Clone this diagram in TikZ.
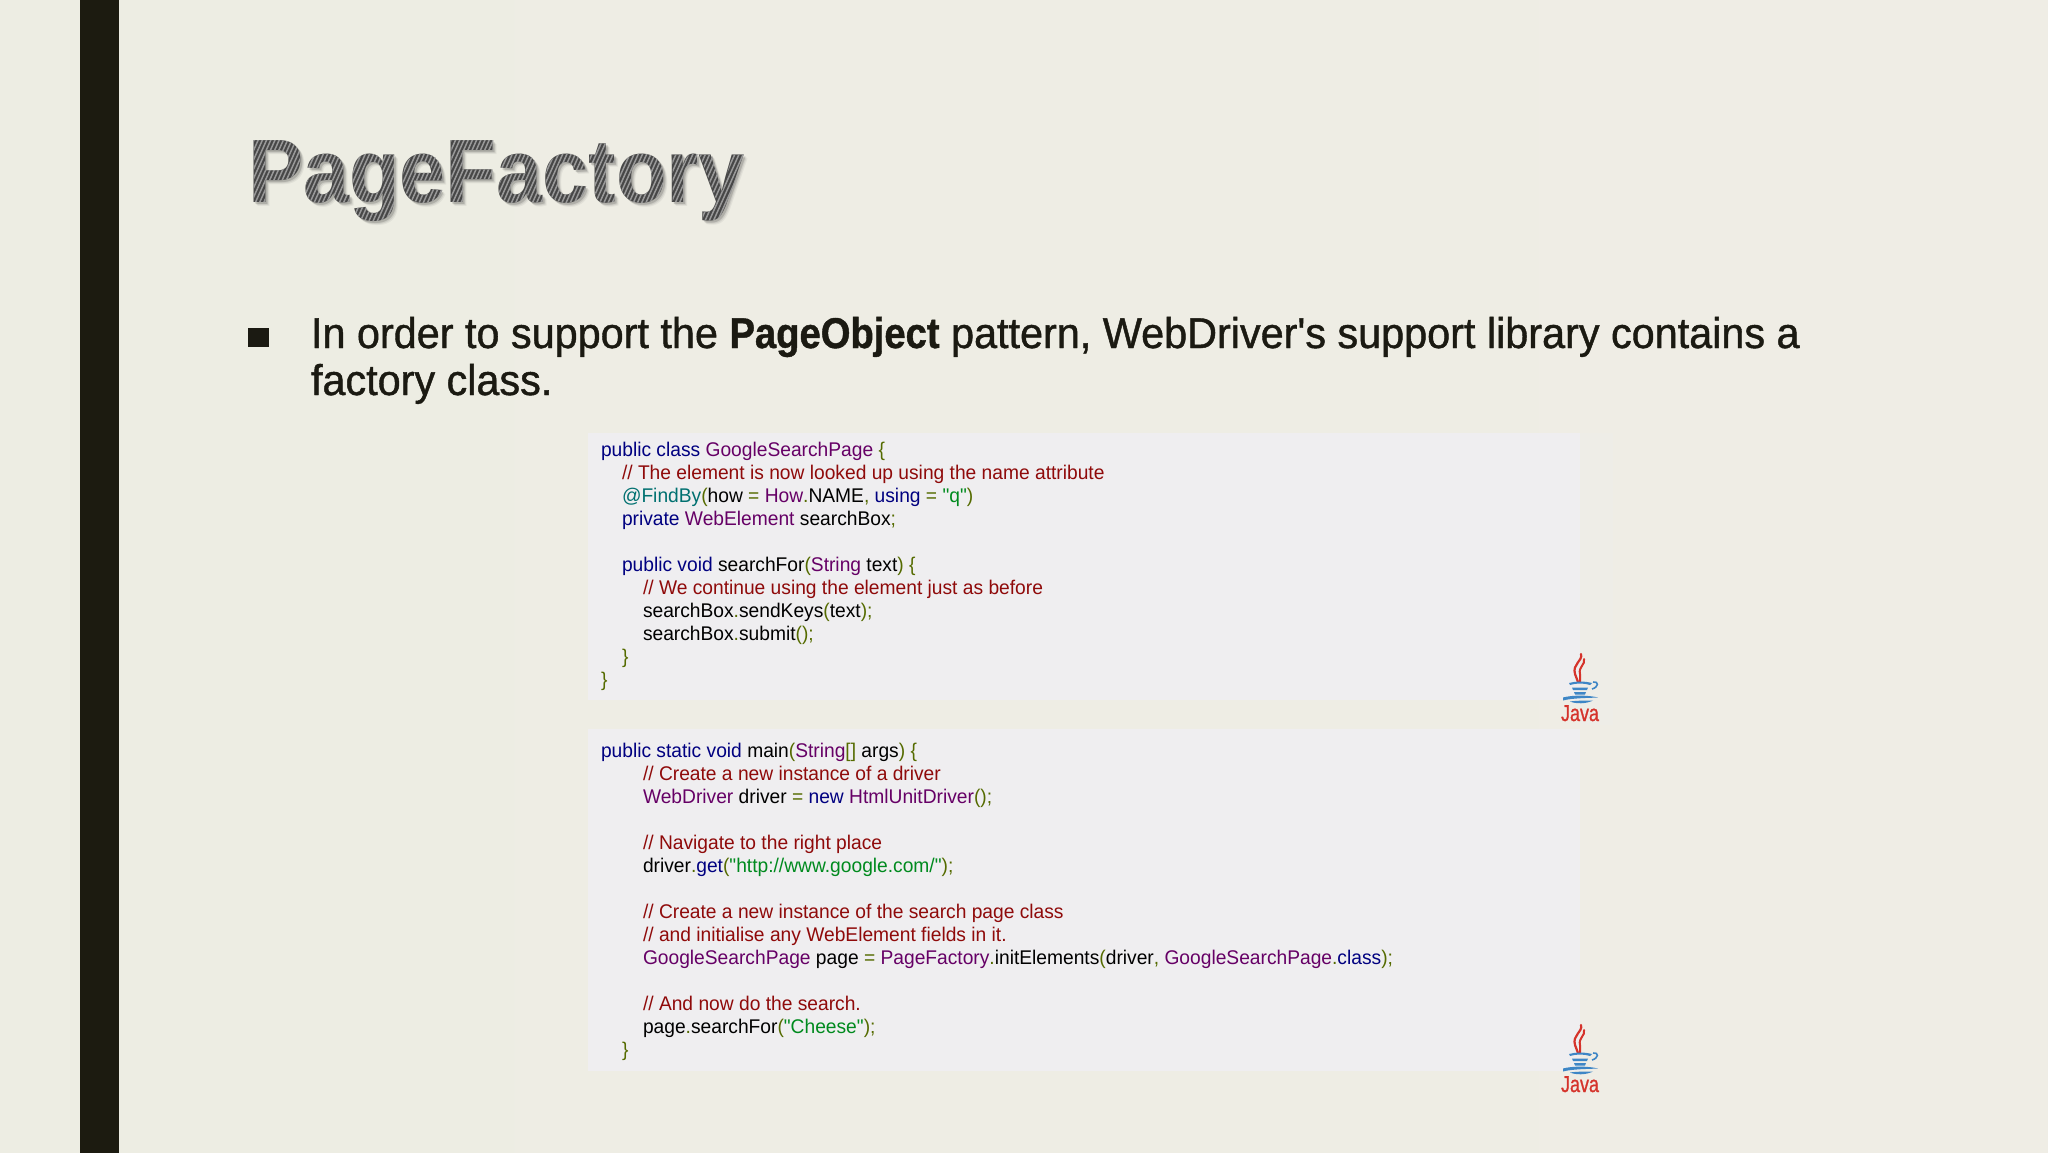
\documentclass[tikz,border=0pt]{standalone}
\usepackage{fontspec}
\setmainfont{Liberation Sans}
\newfontfamily\titlefont[FakeStretch=0.92]{Liberation Sans Bold}
\newfontfamily\bodyfont[FakeStretch=0.962,FakeBold=1.0,BoldFont={Liberation Sans Bold},BoldFeatures={FakeStretch=0.888}]{Liberation Sans}
\newfontfamily\codefont[FakeStretch=0.97]{Liberation Sans}
\newfontfamily\javafont[FakeStretch=0.78,FakeBold=1.0]{Liberation Sans}
\definecolor{bgl}{HTML}{EDEDE3}
\definecolor{bgr}{HTML}{EFEDE5}
\definecolor{barc}{HTML}{1C1B10}
\definecolor{panelc}{HTML}{EFEEF0}
\definecolor{inkc}{HTML}{1B1A12}
\definecolor{ckwc}{HTML}{000080}
\definecolor{ccmc}{HTML}{8F0A0A}
\definecolor{ctyc}{HTML}{660066}
\definecolor{cstc}{HTML}{008A1E}
\definecolor{cpuc}{HTML}{556B00}
\definecolor{canc}{HTML}{007070}
\definecolor{javared}{HTML}{D5332B}
\definecolor{javablue}{HTML}{3E86C6}
\newcommand{\ckw}[1]{\textcolor{ckwc}{#1}}
\newcommand{\ccm}[1]{\textcolor{ccmc}{#1}}
\newcommand{\cty}[1]{\textcolor{ctyc}{#1}}
\newcommand{\cst}[1]{\textcolor{cstc}{#1}}
\newcommand{\cpu}[1]{\textcolor{cpuc}{#1}}
\newcommand{\can}[1]{\textcolor{canc}{#1}}
\newcommand{\titlehatch}{\tikz[overlay,x=1pt,y=1pt,baseline=0pt]{\foreach \i in {-570,-565.8,...,40}{\draw[line width=1.5pt,color=black!40] (\i,-30)--(\i+56,95);}}}
\tikzset{
  codeline/.style={anchor=base west,inner sep=0pt,outer sep=0pt,font=\codefont\fontsize{19.8}{23}\selectfont,text=black},
  bodyline/.style={anchor=base west,inner sep=0pt,outer sep=0pt,font=\bodyfont\fontsize{43}{47}\selectfont,text=inkc},
  titleline/.style={anchor=base west,inner sep=0pt,outer sep=0pt,font=\titlefont\fontsize{90}{100}\selectfont},
  javalogo/.pic={
    \draw[javared,line width=2.2pt,line cap=round] (1,0) .. controls (3,7) and (-8,10) .. (-5,20) .. controls (-4,23) and (-3,25) .. (-2,28);
    \draw[javared,line width=2pt,line cap=round] (4,5) .. controls (6,10) and (-2,13) .. (0,20) .. controls (0.5,23) and (0,25) .. (0,28);
    \fill[javablue] (-11,29) .. controls (-4,27) and (4,27) .. (12,29) -- (10,31) .. controls (4,29) and (-4,29) .. (-10,31) -- cycle;
    \draw[javablue,line width=1.6pt] (13,28) .. controls (19,27) and (19,33) .. (12,35);
    \fill[javablue] (-8,33.5) -- (8,33.5) -- (7,36) -- (-7,36) -- cycle;
    \fill[javablue] (-6,38) -- (6,38) -- (5,40.5) -- (-5,40.5) -- cycle;
    \fill[javablue] (-17,43.5) .. controls (-8,41) and (8,41) .. (18,43.5) .. controls (8,44) and (-8,44) .. (-17,46.5) -- cycle;
    \fill[javablue] (-10,47.5) .. controls (-4,46.5) and (8,46.5) .. (13,46.5) .. controls (6,50) and (-4,50) .. (-10,47.5) -- cycle;
    \node[anchor=base,inner sep=0pt,text=javared,font=\javafont\fontsize{23}{23}\selectfont] (-label) at (0,67) {Java};
  }
}
\begin{document}
\begin{tikzpicture}[x=1pt,y=-1pt]
\useasboundingbox (0,0) rectangle (2048,1152);
\shade[left color=bgl,right color=bgr] (-1,-1) rectangle (2049,1153);
\fill[barc] (80,-1) rectangle (119,1153);
% panels
\fill[panelc!30!bgl] (1580,433) rectangle (1613,725);
\fill[panelc] (588,433) rectangle (1580,700);
\fill[panelc] (588,729) rectangle (1580,1071);
% title: soft shadow, base, hatch
\foreach \d/\o in {4/0.05,3/0.08,2/0.15}{
  \node[titleline,text=black,text opacity=\o] (titleshadow\d) at (248+\d,202+\d) {PageFactory};
}
\node[titleline,text=black!72] (titlebase) at (248,202) {PageFactory};
\node[titleline] (titlehatched) at (248,202) {\special{pdf:code q 7 Tr}PageFactory\special{pdf:code 0 Tr}\titlehatch\special{pdf:code Q}};
% bullet
\fill[inkc] (248,328) rectangle (269,347);
\node[bodyline] (body1) at (311,348) {In order to support the \textbf{PageObject} pattern, WebDriver's support library contains a};
\node[bodyline] (body2) at (311,395) {factory class.};
% upper code
\node[codeline] (u1) at (601,456) {\ckw{public class} \cty{GoogleSearchPage} \cpu{\{}};
\node[codeline] (u2) at (622,479) {\ccm{// The element is now looked up using the name attribute}};
\node[codeline] (u3) at (622,502) {\can{@FindBy}\cpu{(}how \cpu{=} \cty{How}\cpu{.}NAME\cpu{,} \ckw{using} \cpu{=} \cst{"q"}\cpu{)}};
\node[codeline] (u4) at (622,525) {\ckw{private} \cty{WebElement} searchBox\cpu{;}};
\node[codeline] (u5) at (622,571) {\ckw{public void} searchFor\cpu{(}\cty{String} text\cpu{)} \cpu{\{}};
\node[codeline] (u6) at (643,594) {\ccm{// We continue using the element just as before}};
\node[codeline] (u7) at (643,617) {searchBox\cpu{.}sendKeys\cpu{(}text\cpu{);}};
\node[codeline] (u8) at (643,640) {searchBox\cpu{.}submit\cpu{();}};
\node[codeline] (u9) at (622,663) {\cpu{\}}};
\node[codeline] (u10) at (601,686) {\cpu{\}}};
% lower code
\node[codeline] (l1) at (601,757.4) {\ckw{public static void} main\cpu{(}\cty{String}\cpu{[]} args\cpu{)} \cpu{\{}};
\node[codeline] (l2) at (643,780.4) {\ccm{// Create a new instance of a driver}};
\node[codeline] (l3) at (643,803.4) {\cty{WebDriver} driver \cpu{=} \ckw{new} \cty{HtmlUnitDriver}\cpu{();}};
\node[codeline] (l4) at (643,849.4) {\ccm{// Navigate to the right place}};
\node[codeline] (l5) at (643,872.4) {driver\cpu{.}\ckw{get}\cpu{(}\cst{"http://www.google.com/"}\cpu{);}};
\node[codeline] (l6) at (643,918.4) {\ccm{// Create a new instance of the search page class}};
\node[codeline] (l7) at (643,941.4) {\ccm{// and initialise any WebElement fields in it.}};
\node[codeline] (l8) at (643,964.4) {\cty{GoogleSearchPage} page \cpu{=} \cty{PageFactory}\cpu{.}initElements\cpu{(}driver\cpu{,} \cty{GoogleSearchPage}\cpu{.}\ckw{class}\cpu{);}};
\node[codeline] (l9) at (643,1010.4) {\ccm{// And now do the search.}};
\node[codeline] (l10) at (643,1033.4) {page\cpu{.}searchFor\cpu{(}\cst{"Cheese"}\cpu{);}};
\node[codeline] (l11) at (622,1056.4) {\cpu{\}}};
% logos
\pic (logoa) at (1580,654) {javalogo};
\pic (logob) at (1580,1025) {javalogo};
\end{tikzpicture}
\end{document}
